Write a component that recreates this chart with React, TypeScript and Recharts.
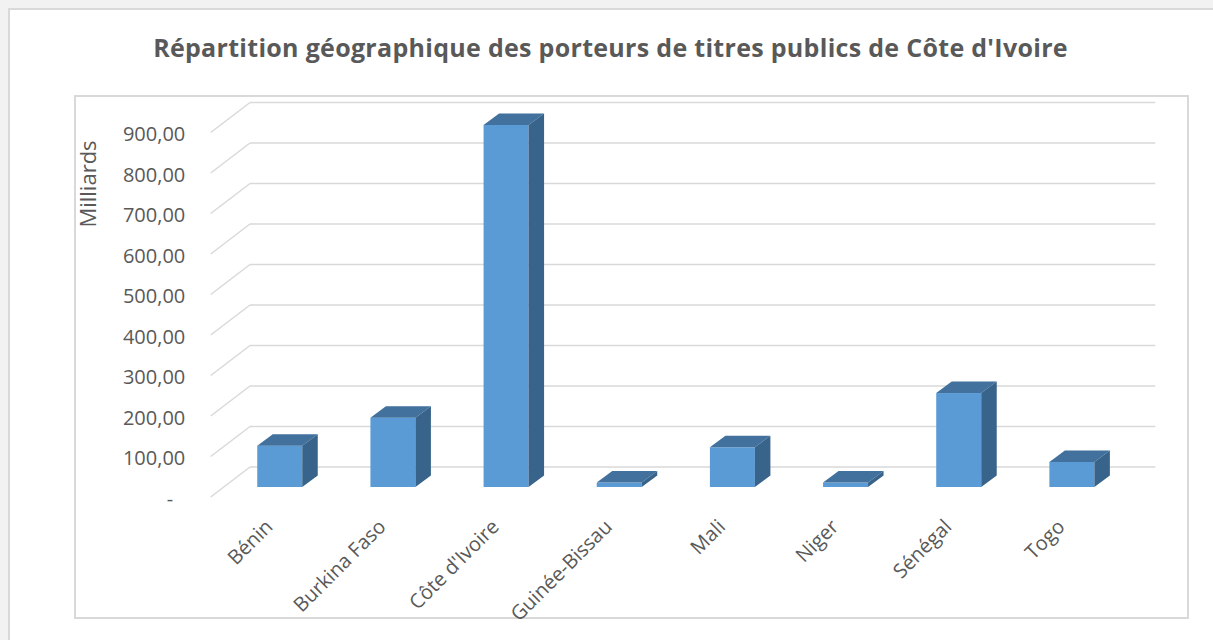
import React from "react";
import { BarChart, Bar, XAxis, YAxis, CartesianGrid } from "recharts";

const categories = ["Bénin", "Burkina Faso", "Côte d'Ivoire", "Guinée-Bissau", "Mali", "Niger", "Sénégal", "Togo"];
const values = [102, 171, 894, 11, 98, 11, 232, 62];
const yTicks = [0, 100, 200, 300, 400, 500, 600, 700, 800, 900];

const data = categories.map((name, i) => ({ name, value: values[i] }));

const FONT = "'Open Sans', sans-serif";
const TEXT = "#595959";
const GRID = "#d9d9d9";

// depth of the fake 3D box
const DX = 15.5;
const DY = 11.5;

const Bar3D = (props: any) => {
  const { x, y, width, height } = props;
  if (height == null || width == null) return null;
  return (
    <g>
      <rect x={x} y={y} width={width} height={height} fill="#5b9bd5" />
      <polygon
        points={`${x},${y} ${x + DX},${y - DY} ${x + width + DX},${y - DY} ${x + width},${y}`}
        fill="#41719c"
      />
      <polygon
        points={`${x + width},${y} ${x + width + DX},${y - DY} ${x + width + DX},${y + height - DY} ${x + width},${y + height}`}
        fill="#38638a"
      />
    </g>
  );
};

// back wall line + diagonal going to the front
const gridLine = (p: any) => (
  <g key={`g-${p.y1}`}>
    <line x1={p.x1 + 26.7} y1={p.y1 - 20} x2={p.x2 + 26.7} y2={p.y2 - 20} stroke={GRID} strokeWidth={1.5} />
    <line x1={p.x1 + 26.7} y1={p.y1 - 20} x2={p.x1 - 12.6} y2={p.y1 + 10} stroke={GRID} strokeWidth={1.5} />
  </g>
);

const YTick = (props: any) => {
  const { x, y, payload } = props;
  const v = payload.value;
  const label = v === 0 ? "-" : v.toFixed(2).replace(".", ",");
  return (
    <text
      x={v === 0 ? x - 50 : x - 38}
      y={y + 11}
      textAnchor="end"
      dominantBaseline="central"
      fontFamily={FONT}
      fontSize={20}
      fill={TEXT}
    >
      {label}
    </text>
  );
};

const XTick = (props: any) => {
  const { x, y, payload } = props;
  const tx = x - 6;
  const ty = y + 41;
  return (
    <text
      x={tx}
      y={ty}
      transform={`rotate(-45, ${tx}, ${ty})`}
      textAnchor="end"
      fontFamily={FONT}
      fontSize={20}
      fill={TEXT}
    >
      {payload.value}
    </text>
  );
};

export default function App() {
  return (
    <div style={{ position: "absolute", left: 0, top: 0, width: 1213, height: 640, background: "#f2f2f2", overflow: "hidden" }}>
      <div
        style={{
          position: "absolute",
          left: 8,
          top: 8,
          width: 1213,
          height: 640,
          background: "#fff",
          borderLeft: `2px solid ${GRID}`,
          borderTop: `2px solid ${GRID}`,
        }}
      />
      <div
        style={{
          position: "absolute",
          left: 74,
          top: 95,
          width: 1111,
          height: 520,
          border: `2px solid ${GRID}`,
        }}
      />
      <div
        style={{
          position: "absolute",
          left: 8,
          top: 31,
          width: 1205,
          textAlign: "center",
          fontFamily: FONT,
          fontWeight: 700,
          fontSize: 25,
          letterSpacing: 0.3,
          color: TEXT,
          lineHeight: "32px",
        }}
      >
        Répartition géographique des porteurs de titres publics de Côte d'Ivoire
      </div>
      <div
        style={{
          position: "absolute",
          left: 87,
          top: 184,
          transform: "translate(-50%, -50%) rotate(-90deg)",
          fontFamily: FONT,
          fontSize: 22,
          color: TEXT,
          whiteSpace: "nowrap",
        }}
      >
        Milliards
      </div>
      <div style={{ position: "absolute", left: 0, top: 0 }}>
        <BarChart
          width={1213}
          height={640}
          data={data}
          margin={{ top: 122.5, right: 84.4, left: 163.3, bottom: 93 }}
          barCategoryGap="30%"
        >
          <CartesianGrid vertical={false} horizontal={gridLine} />
          <XAxis dataKey="name" axisLine={false} tickLine={false} tickSize={0} tickMargin={0} height={60} interval={0} tick={<XTick />} />
          <YAxis
            domain={[0, 900]}
            ticks={yTicks}
            axisLine={false}
            tickLine={false}
            tickSize={0}
            tickMargin={0}
            width={60}
            tick={<YTick />}
          />
          <Bar dataKey="value" shape={<Bar3D />} isAnimationActive={false} />
        </BarChart>
      </div>
    </div>
  );
}
